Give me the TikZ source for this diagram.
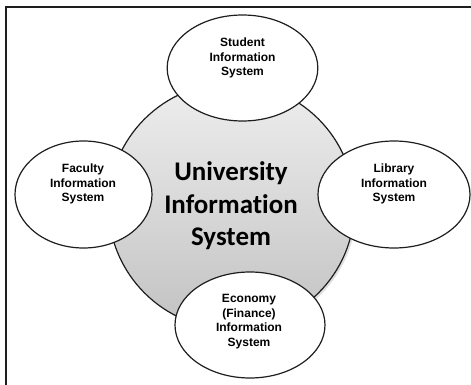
\documentclass[tikz,border=0pt]{standalone}
\usepackage{fontspec}
\setmainfont{Liberation Sans}
\newfontfamily\uisfont[Ligatures={NoCommon,NoContextual}]{Carlito}
\usepackage{tikz}
\usetikzlibrary{shapes.geometric,positioning,shadows}

\definecolor{hubtop}{HTML}{EEEEEE}
\definecolor{hubbot}{HTML}{C2C2C2}
\definecolor{edge}{HTML}{1E1E1E}

\tikzset{
  hub/.style={circle, draw=edge, line width=0.9pt, minimum size=184.5pt, inner sep=0pt,
    top color=hubtop, bottom color=hubbot,
    drop shadow={shadow xshift=1.5pt, shadow yshift=-1.5pt, opacity=0.25}},
  subsys/.style={ellipse, draw=edge, line width=0.9pt, fill=white, inner sep=0pt},
  subtext/.style={align=center, font=\bfseries\fontsize{9}{10.9}\selectfont},
  hubtext/.style={align=center, font=\uisfont\bfseries\fontsize{20.2}{24.4}\selectfont}
}

\begin{document}
\begin{tikzpicture}[x=0.75pt, y=-0.75pt]
    \useasboundingbox (0,0) rectangle (471,385);

    % frame
    \draw[edge, line width=1.1pt] (6,385) -- (6,7) -- (471,7);

    % central system
    \node[hub] (uis) at (231.5,206) {};
    \node[hubtext] (uislabel) at (231,206) {University\\Information\\System};

    % sub systems
    \node[subsys, minimum width=113pt, minimum height=79.5pt] (student) at (242.5,68) {};
    \node[subsys, minimum width=102.75pt, minimum height=80.25pt] (faculty) at (83.5,194.5) {};
    \node[subsys, minimum width=114pt, minimum height=80.25pt] (library) at (394,194.5) {};
    \node[subsys, minimum width=112.5pt, minimum height=79.5pt] (economy) at (250,325) {};

    % labels
    \node[subtext] (studentlabel) at (242.5,58) {Student\\Information\\System};
    \node[subtext] (facultylabel) at (83,184) {Faculty\\Information\\System};
    \node[subtext] (librarylabel) at (394,184) {Library\\Information\\System};
    \node[subtext] (economylabel) at (249,321.5) {Economy\\(Finance)\\Information\\System};
\end{tikzpicture}
\end{document}
